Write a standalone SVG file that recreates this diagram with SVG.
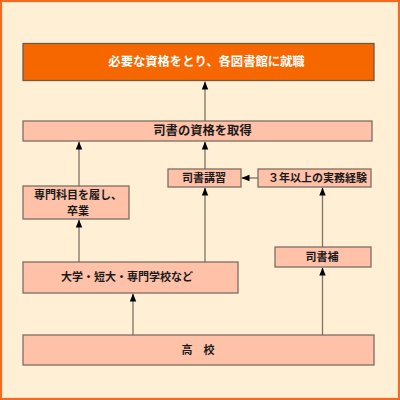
<svg xmlns="http://www.w3.org/2000/svg" width="400" height="400" viewBox="0 0 400 400">
<style>
.box{fill:#FFC1A8;stroke:#7d6e62;stroke-width:1.3}
.top{fill:#F76700;stroke:#6b5a4a;stroke-width:1.3}
.t{font-family:"Liberation Sans","Noto Sans CJK JP",sans-serif;font-size:11px;font-weight:bold;fill:#1a1a1a;text-anchor:middle;dominant-baseline:central}
.big{font-size:12.3px}
.w{fill:#ffffff}
.c{stroke:#7d7366;stroke-width:1.3;fill:none;marker-end:url(#ah)}
</style>
<defs>
<marker id="ah" markerUnits="userSpaceOnUse" markerWidth="8" markerHeight="8" viewBox="0 0 8 8" refX="8" refY="4" orient="auto">
<path d="M0,0.8 L8,4 L0,7.2 Z" fill="#000"/>
</marker>
</defs>
<rect x="1" y="1" width="398" height="398" fill="#FFEFD5" stroke="#F26B1F" stroke-width="2.2"/>
<g id="connectors">
<line class="c" x1="205" y1="121" x2="205" y2="81.5"/>
<line class="c" x1="79" y1="186" x2="79" y2="141.5"/>
<line class="c" x1="205" y1="169" x2="205" y2="141.5"/>
<line class="c" x1="79" y1="262" x2="79" y2="219.5"/>
<line class="c" x1="205" y1="262" x2="205" y2="187.5"/>
<line class="c" x1="258" y1="178" x2="241.5" y2="178"/>
<line class="c" x1="322.5" y1="247" x2="322.5" y2="187.5"/>
<line class="c" x1="133" y1="335" x2="133" y2="293.5"/>
<line class="c" x1="322.5" y1="335" x2="322.5" y2="267.5"/>
</g>
<g id="n-goal"><rect class="top" x="23" y="43.5" width="351" height="37"/><text class="t big w" x="206.5" y="62">必要な資格をとり、各図書館に就職</text></g>
<g id="n-qual"><rect class="box" x="23" y="121" width="349" height="20"/><text class="t big" x="202.5" y="131">司書の資格を取得</text></g>
<g id="n-course"><rect class="box" x="168" y="169" width="73" height="18"/><text class="t" x="204" y="178">司書講習</text></g>
<g id="n-exp"><rect class="box" x="258" y="169" width="113" height="18"/><text class="t" x="317.5" y="178">３年以上の実務経験</text></g>
<g id="n-grad"><rect class="box" x="23" y="186" width="106" height="33"/><text class="t" x="78" y="194.5">専門科目を履し、</text><text class="t" x="78" y="210.5">卒業</text></g>
<g id="n-asst"><rect class="box" x="275" y="247" width="96" height="20"/><text class="t" x="322" y="257">司書補</text></g>
<g id="n-univ"><rect class="box" x="23" y="262" width="215" height="31"/><text class="t" x="127" y="277">大学・短大・専門学校など</text></g>
<g id="n-high"><rect class="box" x="23" y="335" width="351" height="30"/><text class="t" x="198" y="350">高　校</text></g>
</svg>
